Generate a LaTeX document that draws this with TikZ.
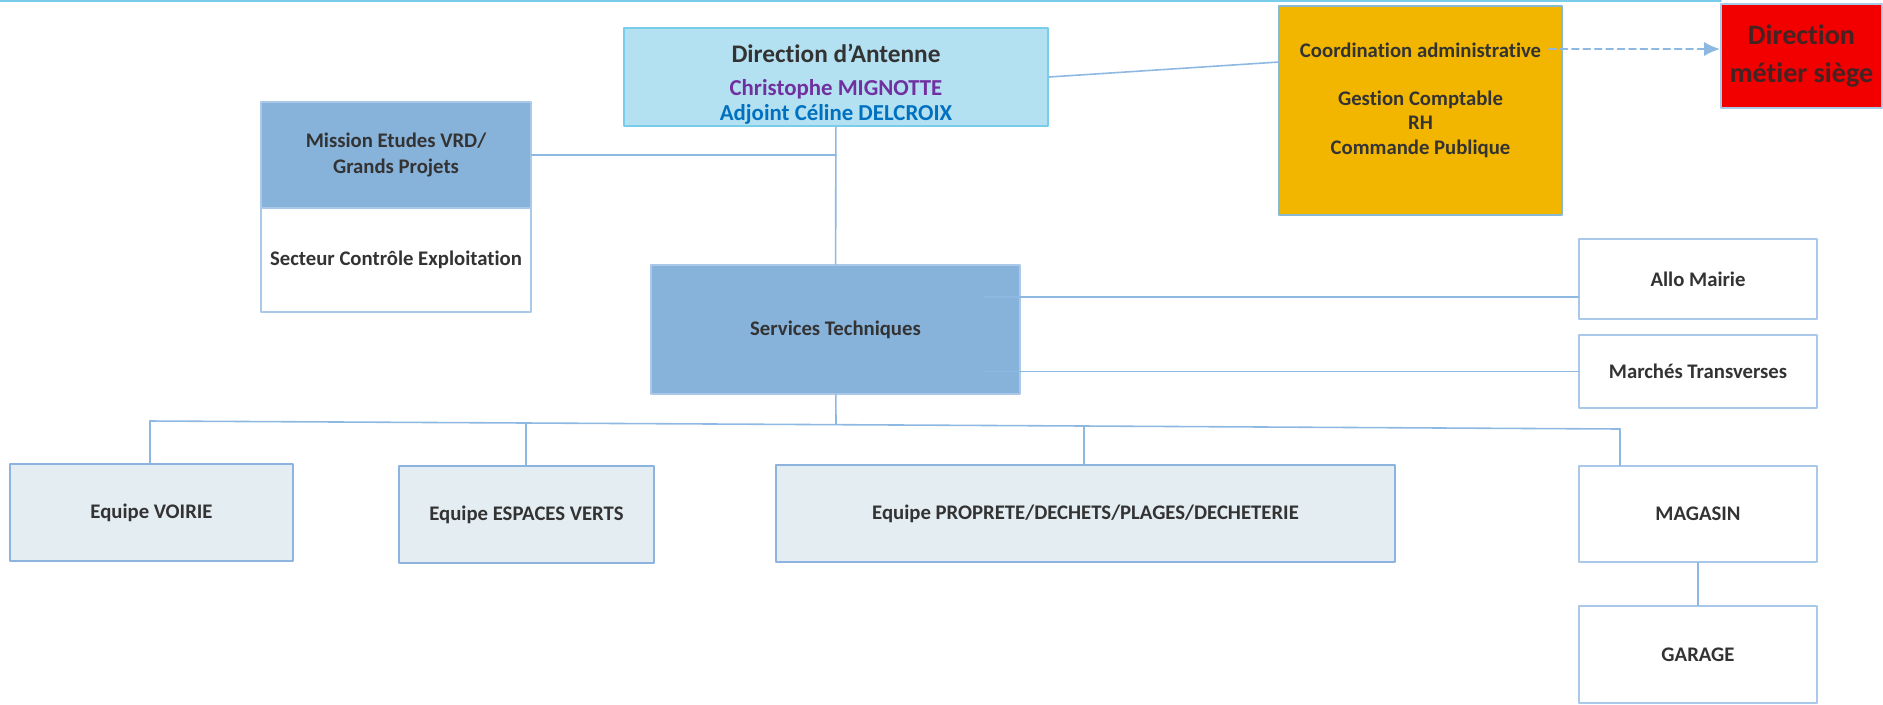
\documentclass[tikz,border=0pt]{standalone}
\usepackage{fontspec}
\setmainfont{Carlito}[Ligatures={NoCommon,NoContextual}]
\usetikzlibrary{arrows.meta}
\definecolor{linkblue}{RGB}{141,184,226}
\definecolor{headcyan}{RGB}{180,225,241}
\definecolor{headborder}{RGB}{120,205,235}
\definecolor{steelfill}{RGB}{135,178,218}
\definecolor{amber}{RGB}{242,182,0}
\definecolor{teamfill}{RGB}{228,237,241}
\definecolor{teamborder}{RGB}{140,180,222}
\definecolor{paleborder}{RGB}{170,200,232}
\definecolor{textgray}{RGB}{51,51,51}
\definecolor{namepurple}{RGB}{112,48,160}
\definecolor{nameblue}{RGB}{0,112,192}
\definecolor{siegered}{RGB}{242,0,0}
\definecolor{siegetext}{RGB}{70,35,35}
\begin{document}
\begin{tikzpicture}[x=0.02cm,y=-0.02cm,line cap=round,line join=round,
  box/.style={draw=paleborder,line width=0.9pt,fill=white,align=center,inner sep=0pt,
    text=textgray,font=\bfseries\fontsize{11.8}{14.4}\selectfont},
  team/.style={box,draw=teamborder,fill=teamfill,line width=1.3pt},
  link/.style={draw=linkblue,line width=0.9pt}]
\useasboundingbox (0,0) rectangle (1883,704);
\draw [headborder,line width=1pt] (0,1) -- (1721,1);
% direction
\node [box,draw=headborder,fill=headcyan,line width=1.3pt,minimum width=8.48cm,minimum height=1.96cm] (antenne) at (836,77)
  {{\fontsize{14.4}{18}\selectfont\rule{0pt}{19pt}Direction d’Antenne}\\[4pt]
   {\fontsize{13}{13.2}\selectfont\color{namepurple}Christophe MIGNOTTE}\\
   {\fontsize{13}{13.2}\selectfont\color{nameblue}Adjoint Céline DELCROIX}};
\node [box,draw=paleborder!80!teal,fill=amber,line width=1.2pt,minimum width=5.66cm,minimum height=4.18cm,
  font=\bfseries\fontsize{11.8}{13.8}\selectfont] (coord) at (1420.5,110.5)
  {Coordination administrative\\ \\Gestion Comptable\\RH\\Commande Publique\\ };
\node [box,draw=paleborder,fill=siegered,line width=1.2pt,minimum width=3.22cm,minimum height=2.08cm,
  text=siegetext,font=\bfseries\fontsize{16}{17.6}\selectfont] (siege) at (1801.5,56)
  {Direction\\[4pt]métier siège};
% missions
\node [box,fill=steelfill,minimum width=5.40cm,minimum height=2.12cm] (mission) at (396,155)
  {Mission Etudes VRD/\\Grands Projets};
\node [box,minimum width=5.40cm,minimum height=2.08cm] (secteur) at (396,260)
  {Secteur Contrôle Exploitation};
\node [box,fill=steelfill,minimum width=7.38cm,minimum height=2.58cm] (services) at (835.5,329.5)
  {Services Techniques};
\node [box,minimum width=4.76cm,minimum height=1.60cm] (allo) at (1698,279) {Allo Mairie};
\node [box,minimum width=4.76cm,minimum height=1.46cm] (marches) at (1698,371.5) {Marchés Transverses};
% equipes
\node [team,minimum width=5.66cm,minimum height=1.94cm] (voirie) at (151.5,512.5) {Equipe VOIRIE};
\node [team,minimum width=5.10cm,minimum height=1.94cm] (espaces) at (526.5,514.5) {Equipe ESPACES VERTS};
\node [team,minimum width=12.38cm,minimum height=1.94cm] (proprete) at (1085.5,513.5)
  {Equipe PROPRETE/DECHETS/PLAGES/DECHETERIE};
\node [box,minimum width=4.76cm,minimum height=1.92cm] (magasin) at (1698,514) {MAGASIN};
\node [box,minimum width=4.76cm,minimum height=1.94cm] (garage) at (1698,654.5) {GARAGE};
% liens
\coordinate (coordin) at (1279,62);
\coordinate (coordout) at (1549,49);
\coordinate (allo0) at (985,297);
\coordinate (marches0) at (985,371.5);
\coordinate (bus) at (836,424);
\coordinate (b1) at (150,421);
\coordinate (b2) at (526,423);
\coordinate (b3) at (1084,426);
\coordinate (b4) at (1620,429);
\draw [link] (antenne.east) -- (coordin);
\draw [link,dashed,dash pattern=on 4pt off 2.5pt,-{Latex[length=9pt,width=8pt]}] (coordout) -- (coordout -| siege.west);
\draw [link] (antenne) -- (services);
\draw [link] (mission.east) -- (mission.east -| antenne.south);
\draw [link] (allo0) -- (allo0 -| allo.west);
\draw [link] (marches0) -- (marches0 -| marches.west);
\draw [link] (services) -- (bus);
\draw [link] (b1) -- (b2) -- (b3) -- (b4);
\draw [link] (b1) -- (b1 |- voirie.north);
\draw [link] (b2) -- (b2 |- espaces.north);
\draw [link] (b3) -- (b3 |- proprete.north);
\draw [link] (b4) -- (b4 |- magasin.north);
\draw [link] (magasin) -- (garage);
\end{tikzpicture}
\end{document}
